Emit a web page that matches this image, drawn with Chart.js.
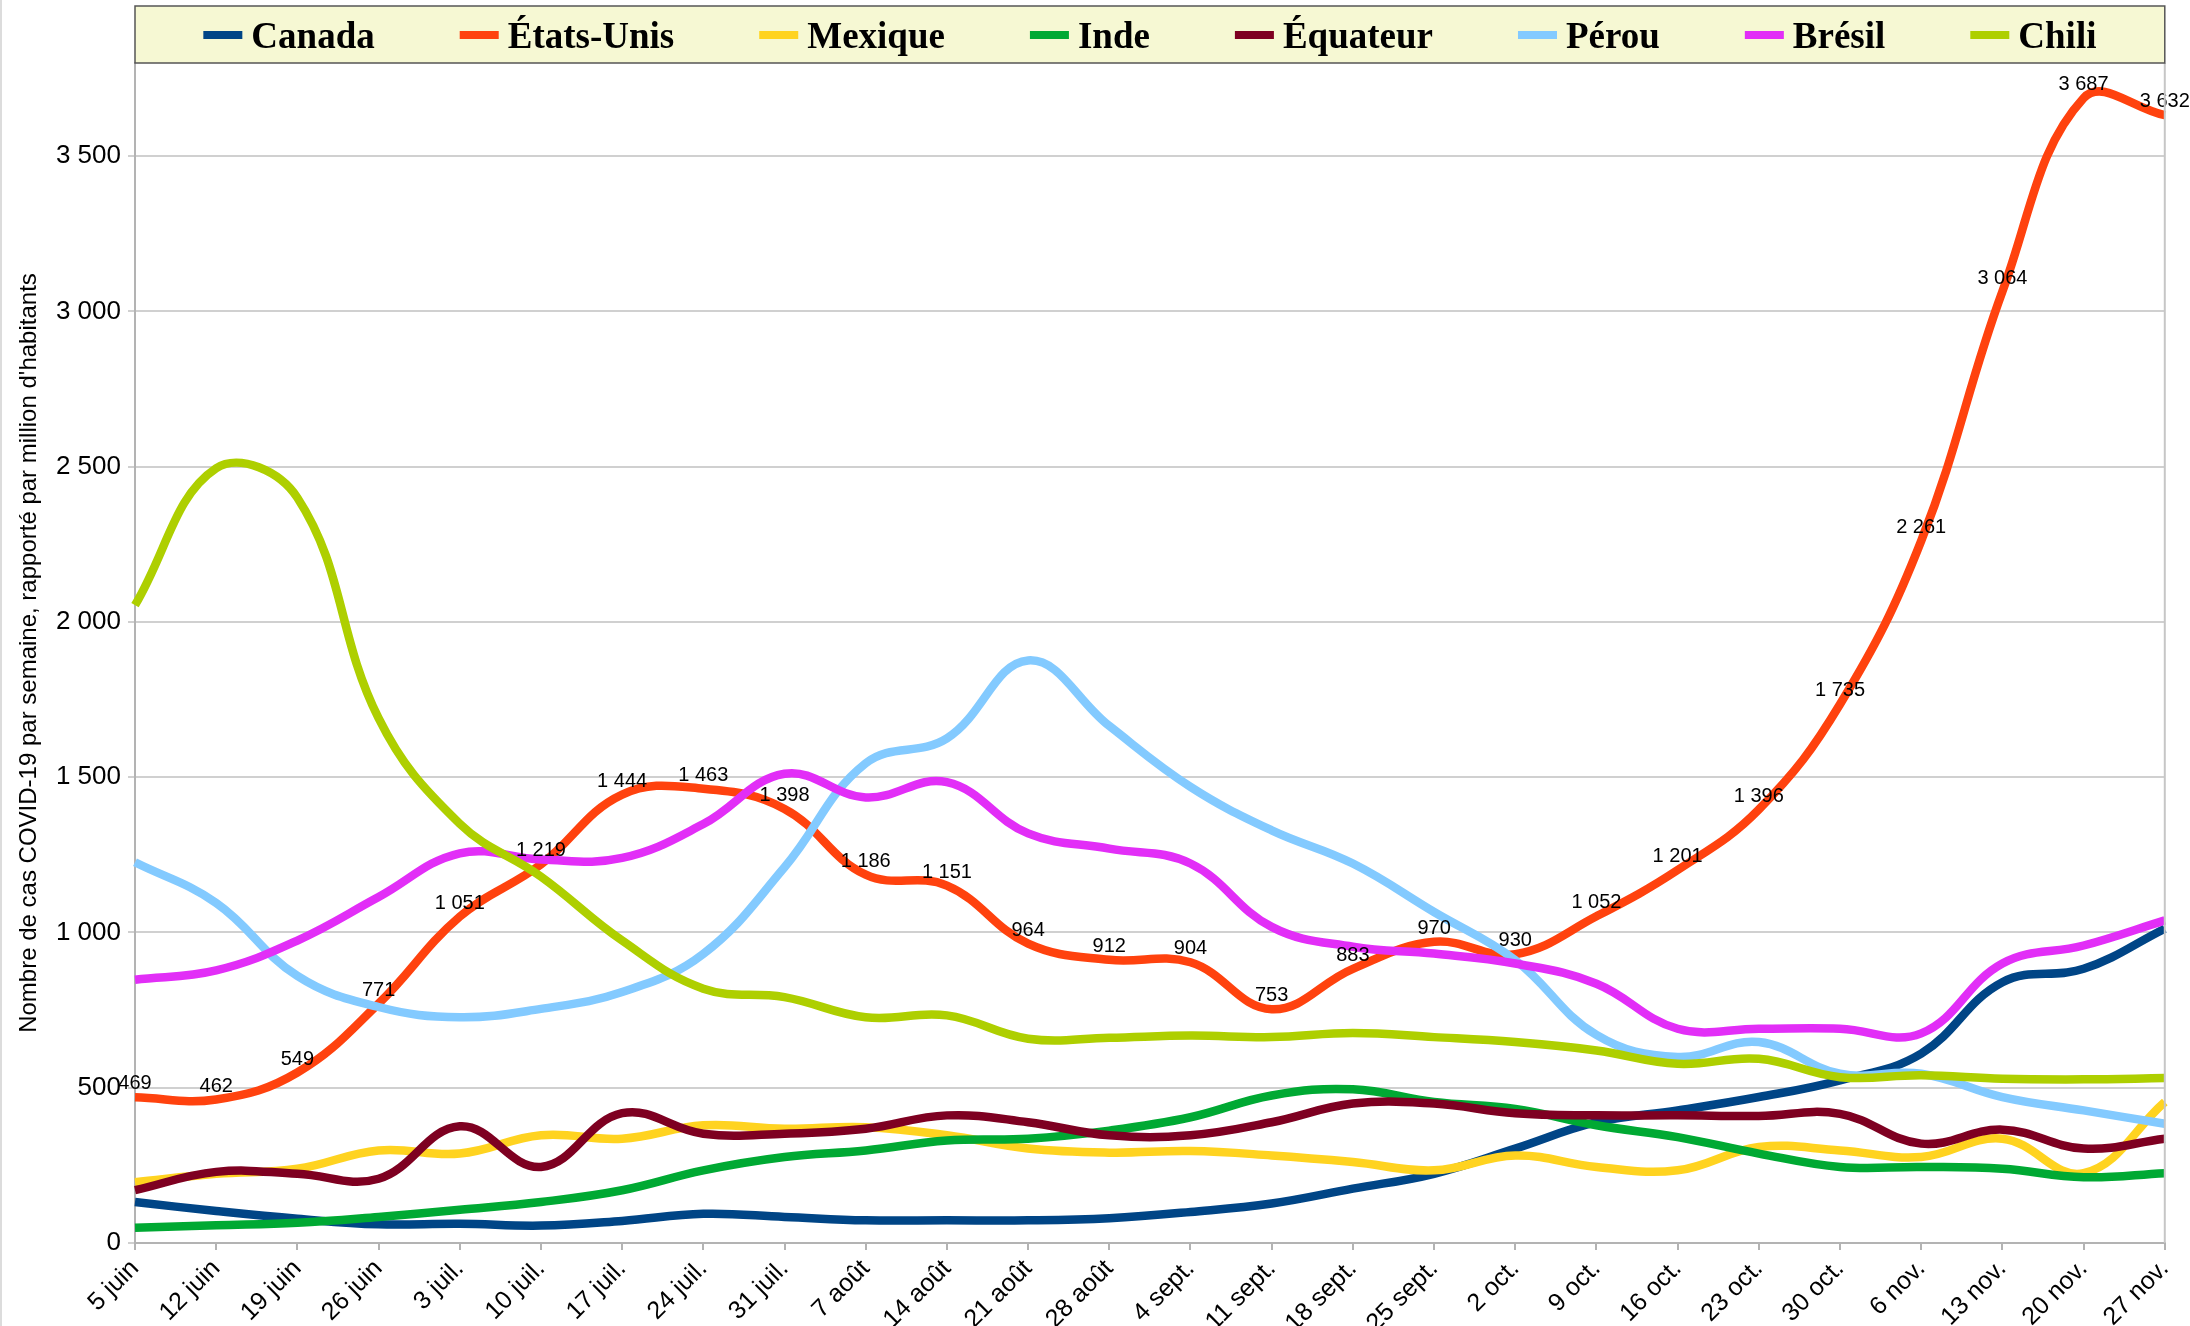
<!DOCTYPE html>
<html>
<head>
<meta charset="utf-8">
<script src="https://cdn.jsdelivr.net/npm/chart.js@4/dist/chart.umd.min.js"></script>
<style>
  body { margin: 0; background: #fff; }
  #wrap { width: 2190px; height: 1326px; }
</style>
</head>
<body>
<div id="wrap"><canvas id="myChart"></canvas></div>
<script>
var weeks = ['5 juin', '12 juin', '19 juin', '26 juin', '3 juil.', '10 juil.', '17 juil.', '24 juil.', '31 juil.',
    '7 août', '14 août', '21 août', '28 août', '4 sept.', '11 sept.', '18 sept.', '25 sept.',
    '2 oct.', '9 oct.', '16 oct.', '23 oct.', '30 oct.', '6 nov.', '13 nov.', '20 nov.', '27 nov.'];

var canada    = [132, 103, 78, 60, 62, 56, 71, 94, 84, 73, 73, 73, 80, 100, 127, 175, 223, 304, 389, 427, 470, 524, 610, 840, 883, 1012];
var etatsUnis = [469, 462, 549, 771, 1051, 1219, 1444, 1463, 1398, 1186, 1151, 964, 912, 904, 753, 883, 970, 930, 1052, 1201, 1396, 1735, 2261, 3064, 3687, 3632];
var mexique   = [196, 223, 239, 298, 288, 347, 336, 379, 368, 373, 347, 304, 291, 296, 282, 261, 234, 282, 245, 234, 309, 298, 277, 336, 225, 454];
var inde      = [49, 57, 65, 84, 107, 132, 170, 234, 277, 298, 330, 336, 362, 405, 475, 495, 454, 432, 379, 341, 288, 245, 245, 239, 212, 225];
var equateur  = [170, 229, 223, 207, 376, 245, 418, 352, 352, 368, 411, 389, 347, 347, 389, 449, 449, 418, 411, 411, 409, 416, 320, 365, 304, 336];
var perou     = [1226, 1095, 860, 760, 727, 754, 808, 931, 1210, 1545, 1625, 1876, 1665, 1469, 1329, 1222, 1066, 911, 670, 599, 647, 545, 545, 470, 427, 384];
var bresil    = [848, 878, 974, 1114, 1255, 1235, 1240, 1349, 1511, 1435, 1484, 1319, 1270, 1222, 1018, 954, 932, 900, 835, 690, 690, 690, 675, 900, 958, 1039];
var chili     = [2054, 2495, 2400, 1690, 1350, 1180, 974, 819, 792, 727, 733, 658, 661, 668, 663, 676, 663, 647, 620, 577, 593, 534, 540, 529, 527, 531];

var countries = ['Canada', 'États-Unis', 'Mexique', 'Inde', 'Équateur', 'Pérou', 'Brésil', 'Chili'];
var series = [canada, etatsUnis, mexique, inde, equateur, perou, bresil, chili];
var colors = ['#004586', '#ff420e', '#ffd320', '#00a933', '#7e0021', '#83caff', '#e22ef7', '#aecf00'];
var yTicks = [0, 500, 1000, 1500, 2000, 2500, 3000, 3500];
var yTitle = "Nombre de cas COVID-19 par semaine, rapporté par million d'habitants";

// 3500 -> "3 500"
function frNumber(v) {
    return String(v).replace(/\B(?=(\d{3})+(?!\d))/g, ' ');
}

// the legend sits in a pale yellow box on top of the plot, Chart.js legend can't do a background
var legendBox = {
    id: 'legendBox',
    beforeDraw: function(chart) {
        // thin page border on the left
        var ctx = chart.ctx;
        ctx.save();
        ctx.strokeStyle = '#dcdcdc';
        ctx.lineWidth = 2;
        ctx.beginPath();
        ctx.moveTo(1, 0);
        ctx.lineTo(1, chart.height);
        ctx.stroke();
        ctx.restore();
    },
    afterDraw: function(chart) {
        var ctx = chart.ctx;
        var area = chart.chartArea;
        ctx.save();
        // right edge of the plot frame
        ctx.strokeStyle = '#c6c6c6';
        ctx.lineWidth = 2;
        ctx.beginPath();
        ctx.moveTo(area.right, area.top);
        ctx.lineTo(area.right, area.bottom);
        ctx.stroke();

        ctx.fillStyle = '#f6f8d3';
        ctx.fillRect(area.left, 6, area.right - area.left, area.top - 6);
        ctx.strokeStyle = '#555';
        ctx.lineWidth = 1.5;
        ctx.strokeRect(area.left, 6, area.right - area.left, area.top - 6);

        ctx.font = 'bold 37px "Liberation Serif"';
        var widths = countries.map(c => 48 + ctx.measureText(c).width);
        var gap = 85;
        var total = widths.reduce((a, b) => a + b, 0) + gap * (countries.length - 1);
        var x = (area.left + area.right) / 2 - total / 2;
        ctx.textAlign = 'left';
        ctx.textBaseline = 'alphabetic';
        countries.forEach(function(c, i) {
            ctx.fillStyle = colors[i];
            ctx.fillRect(x, 31, 39, 8);
            ctx.fillStyle = '#000';
            ctx.fillText(c, x + 48, 48);
            x += widths[i] + gap;
        });
        ctx.restore();
    }
};

// value labels over the États-Unis points
var usLabels = {
    id: 'usLabels',
    afterDatasetsDraw: function(chart) {
        var ctx = chart.ctx;
        var meta = chart.getDatasetMeta(1);
        ctx.save();
        ctx.font = '20px "Liberation Sans"';
        ctx.fillStyle = '#000';
        ctx.textAlign = 'center';
        ctx.textBaseline = 'alphabetic';
        meta.data.forEach(function(pt, i) {
            ctx.fillText(frNumber(etatsUnis[i]), pt.x, pt.y - 8);
        });
        ctx.restore();
    }
};

var ctx = document.getElementById('myChart').getContext('2d');
var myChart = new Chart(ctx, {
    type: 'line',
    data: {
        labels: weeks,
        datasets: countries.map(function(name, i) {
            return {
                label: name,
                data: series[i],
                borderColor: colors[i],
                backgroundColor: colors[i],
                borderWidth: 8.5,
                pointRadius: 0,
                tension: 0.4,
                fill: false,
                order: countries.length - i
            };
        })
    },
    options: {
        responsive: true,
        maintainAspectRatio: false,
        animation: false,
        layout: { padding: { top: 63, right: 22, left: 0, bottom: 0 } },
        plugins: {
            legend: { display: false },
            tooltip: { enabled: false }
        },
        scales: {
            x: {
                grid: { drawOnChartArea: false, color: '#b3b3b3', lineWidth: 2, tickLength: 7 },
                border: { color: '#b3b3b3', width: 2 },
                ticks: {
                    autoSkip: false,
                    maxRotation: 45,
                    minRotation: 45,
                    padding: 4,
                    color: '#000',
                    font: { family: '"Liberation Sans"', size: 25 }
                },
                afterFit: function(scale) { scale.height = 83; }
            },
            y: {
                min: 0,
                max: 3800,
                grid: { color: '#d0d0d0', lineWidth: 2, tickLength: 7 },
                border: { color: '#b3b3b3', width: 2 },
                ticks: {
                    padding: 7,
                    color: '#000',
                    font: { family: '"Liberation Sans"', size: 26 },
                    callback: function(v) { return frNumber(v); }
                },
                afterBuildTicks: function(scale) {
                    scale.ticks = yTicks.map(v => ({ value: v }));
                },
                title: {
                    display: true,
                    text: yTitle,
                    color: '#000',
                    padding: { top: 15, bottom: 4 },
                    font: { family: '"Liberation Sans"', size: 24 }
                },
                afterFit: function(scale) { scale.width = 135; }
            }
        }
    },
    plugins: [legendBox, usLabels]
});
</script>
</body>
</html>
